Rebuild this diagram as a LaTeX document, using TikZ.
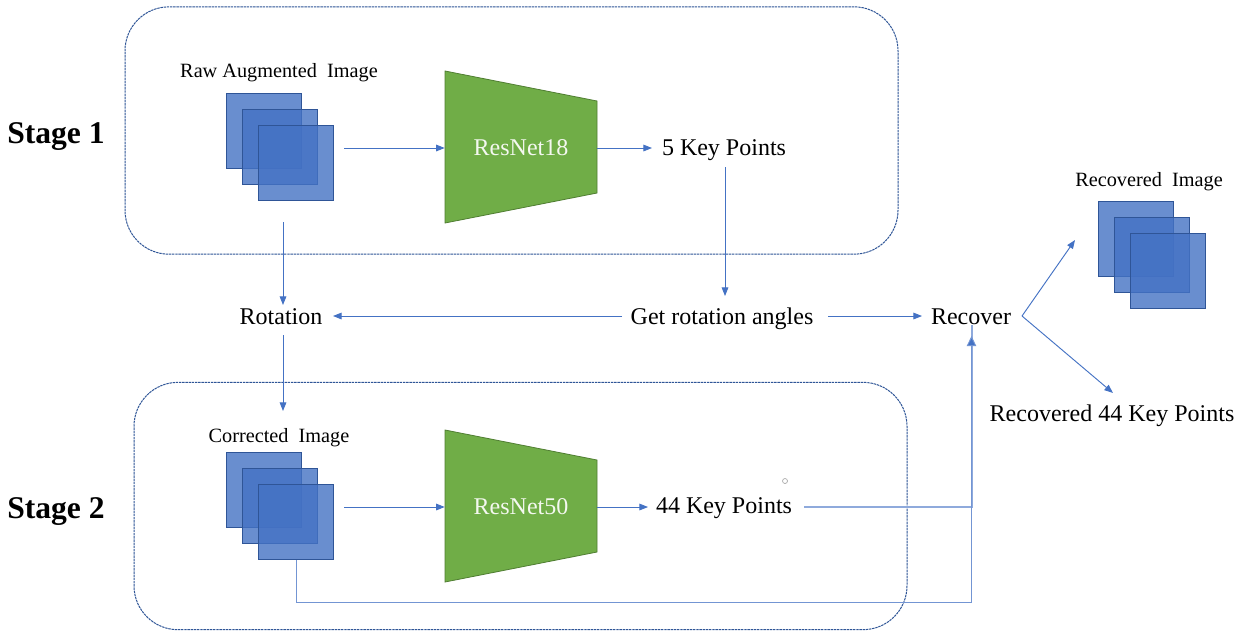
\documentclass[tikz,border=0pt]{standalone}
\usepackage{fontspec}
\setmainfont{Liberation Serif}
\usetikzlibrary{arrows.meta}
\definecolor{arrowblue}{HTML}{4472C4}
\definecolor{darkblue}{HTML}{2F5597}
\definecolor{paleblue}{HTML}{8FAADC}
\definecolor{netgreen}{HTML}{70AD47}
\definecolor{netedge}{HTML}{507E32}
\tikzset{
  stagebox/.style={draw=darkblue,line width=0.75pt,dash pattern=on 1.8pt off 0.6pt,rounded corners=33pt,minimum width=579.75pt,minimum height=185.5pt,inner sep=0pt},
  sheet/.style={draw=darkblue,line width=0.9pt,fill=arrowblue,fill opacity=0.8,minimum size=56pt,inner sep=0pt},
  netshape/.style={draw=netedge,line width=0.6pt,fill=netgreen},
  netlabel/.style={text=white!92!netgreen,font=\fontsize{18pt}{20pt}\selectfont,minimum width=114pt,minimum height=114pt,inner sep=0pt},
  lab/.style={font=\fontsize{18pt}{20pt}\selectfont,inner sep=0pt,text height=11.5pt,text depth=3.5pt},
  smalllab/.style={font=\fontsize{15.2pt}{17pt}\selectfont,inner sep=0pt,text height=9.5pt,text depth=3pt},
  stagelab/.style={font=\fontsize{23.7pt}{26pt}\selectfont\bfseries,inner sep=0pt,text height=15pt,text depth=4pt},
  conn/.style={draw=arrowblue,line width=0.7pt,-{Triangle[length=6.5pt,width=5pt]}},
  thick conn/.style={draw=paleblue,line width=1.5pt},
  big tip/.style={draw=arrowblue!75,line width=0.7pt,-{Triangle[length=7.5pt,width=7pt,fill=arrowblue]}},
}
\begin{document}
\begin{tikzpicture}[x=0.75pt,y=-0.75pt]
\useasboundingbox (0,0) rectangle (1244,637);
\fill[white] (0,0) rectangle (1244,637);

\node[stagebox] (box1) at (511.5,130.5) {};
\node[stagebox] (box2) at (520.5,506) {};

\node[stagelab] (stage1) at (56,136) {Stage 1};
\node[stagelab] (stage2) at (56,511) {Stage 2};

\node[sheet] (a1) at (264,131) {};
\node[sheet] (a2) at (280,147) {};
\node[sheet] (a3) at (296,163) {};
\node[sheet] (c1) at (264,490) {};
\node[sheet] (c2) at (280,506) {};
\node[sheet] (c3) at (296,522) {};
\node[sheet] (r1) at (1136,239) {};
\node[sheet] (r2) at (1152,255) {};
\node[sheet] (r3) at (1168,271) {};

\draw[netshape] (445,71) -- (597,101) -- (597,193) -- (445,223) -- cycle;
\draw[netshape] (445,430) -- (597,460) -- (597,552) -- (445,582) -- cycle;
\node[netlabel] (res18) at (521,148) {ResNet18};
\node[netlabel] (res50) at (521,507) {ResNet50};

\node[smalllab] (rawlab) at (279,73) {Raw Augmented~~Image};
\node[smalllab] (corrlab) at (279,438) {Corrected~~Image};
\node[smalllab] (reclab) at (1149,182) {Recovered~~Image};

\node[lab] (kp5) at (724,150) {5 Key Points};
\node[lab] (kp44) at (724,508) {44 Key Points};
\node[lab] (rot) at (281,319) {Rotation};
\node[lab] (angles) at (722,319) {Get rotation angles};
\node[lab] (rec) at (971,319) {Recover};
\node[lab] (reckp) at (1112,416) {Recovered 44 Key Points};

\draw[gray!70,line width=0.5pt] (785,481) circle (2.5);

\coordinate (rawout) at (344,148);
\coordinate (rawdown) at (283,222);
\coordinate (rotin) at (283,305);
\coordinate (rotout) at (283,335);
\coordinate (corrin) at (283,411);
\coordinate (corrout) at (344,507);
\coordinate (kp5in) at (652,148);
\coordinate (kp44in) at (648,507);
\coordinate (kp5out) at (725,167);
\coordinate (anglesin) at (725,296);
\coordinate (angleslft) at (622,316);
\coordinate (rotrgt) at (333,316);
\coordinate (anglesrgt) at (828,316);
\coordinate (recin) at (922,316);
\coordinate (kp44out) at (804,507);
\coordinate (recbot) at (971.5,336);
\coordinate (c3out) at (296,560);
\coordinate (fork) at (1022,316);
\coordinate (imgin) at (1075,240);
\coordinate (kpin) at (1113,393);

\draw[conn] (rawout) -- (res18.west);
\draw[conn] (res18.east) -- (kp5in);
\draw[conn] (kp5out) -- (anglesin);
\draw[conn] (rawdown) -- (rotin);
\draw[conn] (angleslft) -- (rotrgt);
\draw[conn] (anglesrgt) -- (recin);
\draw[conn] (rotout) -- (corrin);
\draw[conn] (corrout) -- (res50.west);
\draw[conn] (res50.east) -- (kp44in);
\draw[thick conn] (kp44out) -| ([xshift=0.5,yshift=8]recbot);
\draw[big tip] (c3out) |- (971.5,602) -- (recbot);
\draw[conn] (fork) -- (imgin);
\draw[conn] (fork) -- (kpin);
\end{tikzpicture}
\end{document}
